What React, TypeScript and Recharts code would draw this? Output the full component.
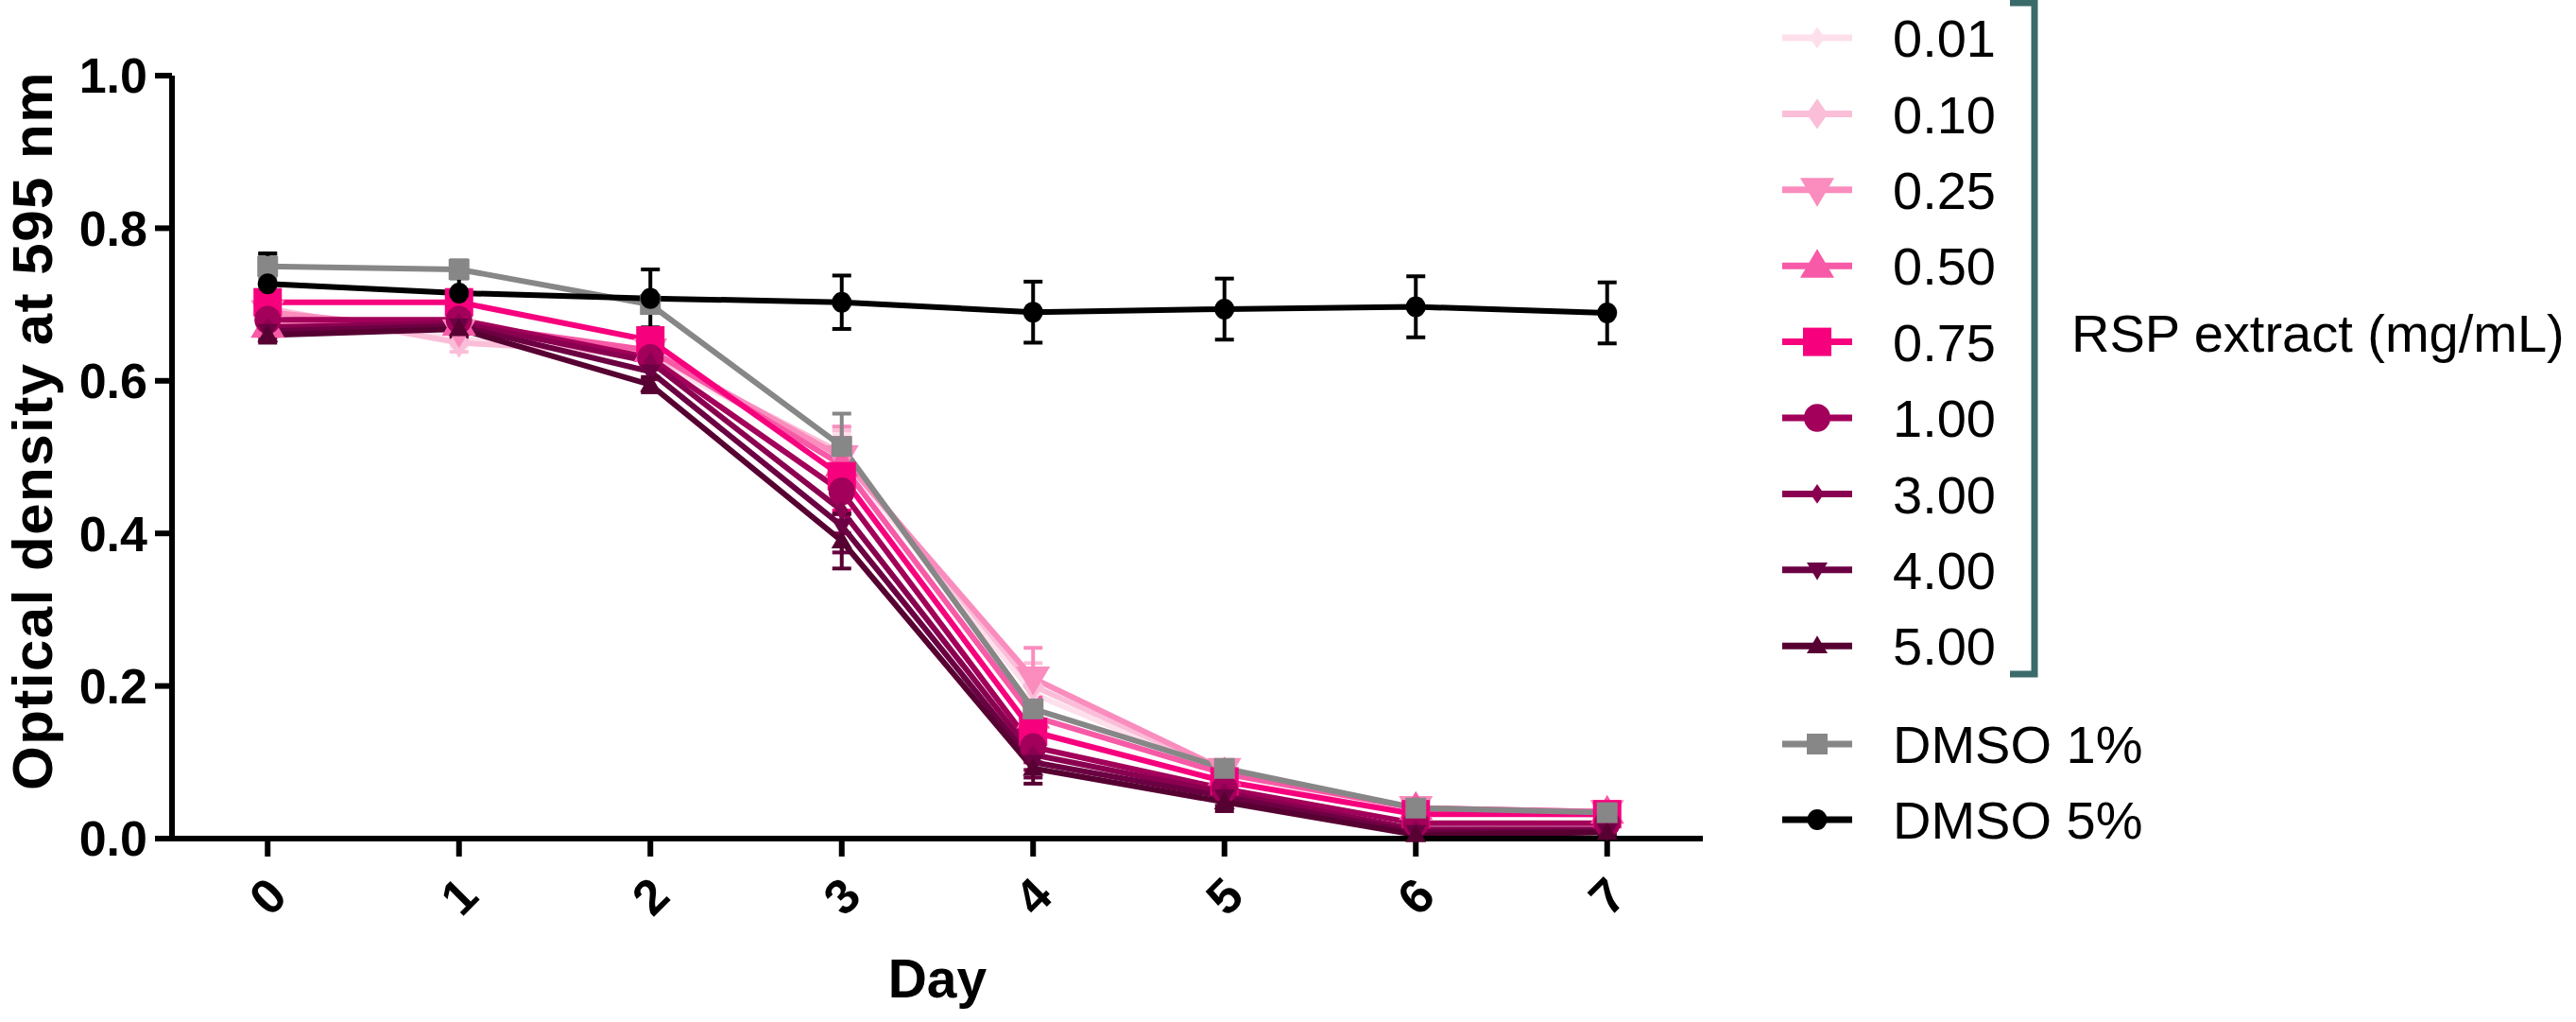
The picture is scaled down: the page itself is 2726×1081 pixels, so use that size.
import React from 'react';
import { LineChart, Line, XAxis, YAxis, ErrorBar, Legend } from 'recharts';

const FONT = "'Liberation Sans', Arial, Helvetica, sans-serif";

// x categories (days) and y ticks
const days = [0, 1, 2, 3, 4, 5, 6, 7];
const yTicks = [0, 0.2, 0.4, 0.6, 0.8, 1.0];

// RSP extract (mg/mL) – mean OD595 per day, and SD
const rsp001 = [0.690, 0.655, 0.630, 0.500, 0.190, 0.085, 0.035, 0.030];
const rsp001Err = [0.010, 0.010, 0.010, 0.030, 0.030, 0.010, 0.005, 0.005];
const rsp010 = [0.695, 0.650, 0.635, 0.505, 0.200, 0.088, 0.040, 0.035];
const rsp010Err = [0.010, 0.012, 0.010, 0.030, 0.030, 0.010, 0.005, 0.005];
const rsp025 = [0.690, 0.665, 0.640, 0.500, 0.210, 0.090, 0.040, 0.035];
const rsp025Err = [0.015, 0.010, 0.010, 0.040, 0.040, 0.010, 0.005, 0.008];
const rsp050 = [0.672, 0.675, 0.640, 0.490, 0.160, 0.085, 0.040, 0.035];
const rsp050Err = [0.012, 0.010, 0.010, 0.035, 0.025, 0.010, 0.008, 0.008];
const rsp075 = [0.703, 0.703, 0.653, 0.475, 0.140, 0.075, 0.032, 0.032];
const rsp075Err = [0.015, 0.012, 0.010, 0.045, 0.020, 0.010, 0.008, 0.008];
const rsp100 = [0.680, 0.680, 0.630, 0.455, 0.120, 0.065, 0.020, 0.020];
const rsp100Err = [0.012, 0.010, 0.010, 0.030, 0.020, 0.010, 0.005, 0.005];
const rsp300 = [0.670, 0.676, 0.625, 0.430, 0.110, 0.060, 0.012, 0.012];
const rsp300Err = [0.010, 0.010, 0.010, 0.030, 0.020, 0.010, 0.005, 0.005];
const rsp400 = [0.665, 0.672, 0.612, 0.410, 0.100, 0.055, 0.008, 0.010];
const rsp400Err = [0.010, 0.010, 0.010, 0.035, 0.020, 0.012, 0.005, 0.005];
const rsp500 = [0.660, 0.668, 0.595, 0.390, 0.092, 0.048, 0.005, 0.008];
const rsp500Err = [0.010, 0.010, 0.010, 0.036, 0.020, 0.012, 0.005, 0.005];

// vehicle controls
const dmso1 = [0.750, 0.746, 0.700, 0.514, 0.170, 0.092, 0.040, 0.034];
const dmso1Err = [0.015, 0.012, 0.010, 0.043, 0.030, 0.010, 0.005, 0.005];
const dmso5 = [0.727, 0.715, 0.708, 0.703, 0.690, 0.694, 0.697, 0.689];
const dmso5Err = [0.040, 0.040, 0.038, 0.035, 0.040, 0.040, 0.040, 0.040];

const seriesNames = ['0.01', '0.10', '0.25', '0.50', '0.75', '1.00', '3.00', '4.00', '5.00', 'DMSO 1%', 'DMSO 5%'];
const seriesValues = [rsp001, rsp010, rsp025, rsp050, rsp075, rsp100, rsp300, rsp400, rsp500, dmso1, dmso5];
const seriesErrors = [rsp001Err, rsp010Err, rsp025Err, rsp050Err, rsp075Err, rsp100Err, rsp300Err, rsp400Err, rsp500Err, dmso1Err, dmso5Err];

// look of each series, same order as seriesNames
const seriesStyle = [
  { color: '#fde0ec', shape: 'diamond', size: 20 },
  { color: '#fbbed8', shape: 'diamond', size: 28 },
  { color: '#fa8cbe', shape: 'triDown', size: 36 },
  { color: '#f75aa6', shape: 'triUp', size: 36 },
  { color: '#f6007e', shape: 'square', size: 30 },
  { color: '#a2005a', shape: 'circle', size: 28 },
  { color: '#8a0050', shape: 'diamond', size: 18 },
  { color: '#6b0042', shape: 'triDown', size: 22 },
  { color: '#570032', shape: 'triUp', size: 22 },
  { color: '#878787', shape: 'square', size: 22 },
  { color: '#000000', shape: 'circle', size: 21 },
];

const keyOf = (i: number) => `s${i}`;

const data = days.map((day, d) => {
  const row: Record<string, number> = { day };
  seriesValues.forEach((vals, i) => {
    row[keyOf(i)] = vals[d];
    row[`${keyOf(i)}Err`] = seriesErrors[i][d];
  });
  return row;
});

function Marker({ shape, size, color, cx, cy }: any) {
  if (cx == null || cy == null) return null;
  const h = size / 2;
  switch (shape) {
    case 'circle':
      return <ellipse cx={cx} cy={cy} rx={h} ry={h * 1.05} fill={color} />;
    case 'square':
      return <rect x={cx - h} y={cy - h} width={size} height={size} fill={color} />;
    case 'diamond':
      return (
        <polygon
          points={`${cx},${cy - h * 1.15} ${cx + h * 0.8},${cy} ${cx},${cy + h * 1.15} ${cx - h * 0.8},${cy}`}
          fill={color}
        />
      );
    case 'triUp':
      return <polygon points={`${cx},${cy - h} ${cx + h},${cy + h * 0.7} ${cx - h},${cy + h * 0.7}`} fill={color} />;
    case 'triDown':
      return <polygon points={`${cx},${cy + h} ${cx + h},${cy - h * 0.7} ${cx - h},${cy - h * 0.7}`} fill={color} />;
    default:
      return null;
  }
}

function DayTick({ x, y, payload }: any) {
  const ty = y + 42;
  return (
    <text
      x={x}
      y={ty}
      transform={`rotate(-45 ${x} ${ty})`}
      textAnchor="middle"
      dominantBaseline="central"
      fontSize={52}
      fontWeight={700}
      fontFamily={FONT}
      fill="#000"
    >
      {payload.value}
    </text>
  );
}

function YTitle({ viewBox }: any) {
  const vb = viewBox || { x: 0, y: 80, width: 182, height: 807 };
  const cx = vb.x + 34;
  const cy = vb.y + vb.height / 2 - 28;
  return (
    <text
      x={cx}
      y={cy}
      transform={`rotate(-90 ${cx} ${cy})`}
      textAnchor="middle"
      dominantBaseline="central"
      fontSize={60}
      fontWeight={700}
      letterSpacing={1.5}
      fontFamily={FONT}
      fill="#000"
    >
      Optical density at 595 nm
    </text>
  );
}

function XTitle({ viewBox }: any) {
  const vb = viewBox || { x: 182, y: 887, width: 1620, height: 194 };
  return (
    <text
      x={vb.x + vb.width / 2}
      y={vb.y + 168}
      textAnchor="middle"
      fontSize={57}
      fontWeight={700}
      fontFamily={FONT}
      fill="#000"
    >
      Day
    </text>
  );
}

function LegendBox() {
  const rowY = (i: number) => (i < 9 ? 40 + i * 80.4 : 787 + (i - 9) * 80);
  return (
    <svg width={846} height={1081} style={{ display: 'block' }}>
      {seriesNames.map((name, i) => {
        const st = seriesStyle[i];
        const y = rowY(i);
        return (
          <g key={name}>
            <line x1={6} x2={80} y1={y} y2={y} stroke={st.color} strokeWidth={7} />
            <Marker shape={st.shape} size={st.size} color={st.color} cx={43} cy={y} />
            <text x={123} y={y} dy="0.36em" fontSize={56} fontFamily={FONT} fill="#000">
              {name}
            </text>
          </g>
        );
      })}
      <path d="M247 3 H273 V713 H247" fill="none" stroke="#3b6a6a" strokeWidth={7} />
      <text x={312} y={352} dy="0.36em" fontSize={56} fontFamily={FONT} fill="#000">
        RSP extract (mg/mL)
      </text>
    </svg>
  );
}

export default function App() {
  return (
    <div style={{ position: 'absolute', left: 0, top: 0, width: 2726, height: 1081, background: '#fff' }}>
      <LineChart
        width={2726}
        height={1081}
        data={data}
        margin={{ top: 80, right: 924, bottom: 0, left: 0 }}
      >
        <XAxis
          type="number"
          dataKey="day"
          domain={[-0.5, 7.5]}
          ticks={days}
          interval={0}
          height={194}
          tickSize={19}
          tickMargin={0}
          tick={<DayTick />}
          axisLine={{ stroke: '#000', strokeWidth: 6 }}
          tickLine={{ stroke: '#000', strokeWidth: 6 }}
          label={{ content: (p: any) => <XTitle {...p} /> }}
        />
        <YAxis
          type="number"
          domain={[0, 1]}
          ticks={yTicks}
          interval={0}
          width={182}
          tickSize={18}
          tickMargin={8}
          tickFormatter={(v: number) => v.toFixed(1)}
          tick={{ fontSize: 52, fontWeight: 700, fill: '#000', fontFamily: FONT }}
          axisLine={{ stroke: '#000', strokeWidth: 6 }}
          tickLine={{ stroke: '#000', strokeWidth: 6 }}
          label={{ content: (p: any) => <YTitle {...p} /> }}
        />
        <Legend
          layout="horizontal"
          verticalAlign="middle"
          align="center"
          content={() => <LegendBox />}
          wrapperStyle={{ left: 1880, top: 0, width: 846, height: 1081 }}
        />
        {seriesNames.map((name, i) => {
          const st = seriesStyle[i];
          return (
            <Line
              key={name}
              name={name}
              type="linear"
              dataKey={keyOf(i)}
              stroke={st.color}
              strokeWidth={6}
              isAnimationActive={false}
              activeDot={false}
              dot={(p: any) => (
                <Marker
                  key={`${name}-${p.index}`}
                  shape={st.shape}
                  size={st.size}
                  color={st.color}
                  cx={p.cx}
                  cy={p.cy}
                />
              )}
            >
              <ErrorBar
                dataKey={`${keyOf(i)}Err`}
                direction="y"
                width={10}
                strokeWidth={4}
                stroke={st.color}
                isAnimationActive={false}
              />
            </Line>
          );
        })}
      </LineChart>
    </div>
  );
}
